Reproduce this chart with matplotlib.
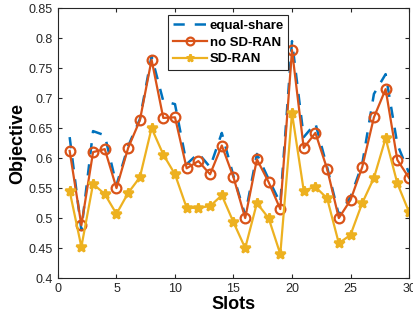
import matplotlib
matplotlib.use("Agg")
import matplotlib.pyplot as plt

plt.rcParams['font.family'] = ['Liberation Sans', 'DejaVu Sans']

slots = list(range(1, 31))
equal_share = [0.635, 0.48, 0.645, 0.638, 0.555, 0.62, 0.665, 0.77, 0.695, 0.69,
               0.59, 0.608, 0.585, 0.642, 0.57, 0.505, 0.607, 0.565, 0.525, 0.795,
               0.635, 0.658, 0.585, 0.505, 0.535, 0.59, 0.707, 0.74, 0.623, 0.575]
no_sdran = [0.612, 0.488, 0.61, 0.615, 0.55, 0.617, 0.663, 0.764, 0.667, 0.668,
            0.583, 0.595, 0.573, 0.621, 0.568, 0.5, 0.598, 0.56, 0.515, 0.78,
            0.617, 0.642, 0.582, 0.5, 0.53, 0.585, 0.668, 0.715, 0.597, 0.567]
sdran = [0.545, 0.452, 0.557, 0.54, 0.507, 0.542, 0.568, 0.65, 0.606, 0.573,
         0.517, 0.517, 0.52, 0.538, 0.493, 0.45, 0.525, 0.5, 0.44, 0.675,
         0.546, 0.552, 0.533, 0.458, 0.472, 0.525, 0.567, 0.633, 0.558, 0.51]

fig = plt.figure(figsize=(4.14, 3.26), dpi=100)
ax = fig.add_axes([0.140, 0.147, 0.848, 0.828])

ax.plot(slots, equal_share, '--', color='#0072BD', lw=1.8, dashes=(4.5, 4),
        label='equal-share')
ax.plot(slots, no_sdran, '-o', color='#D95319', lw=1.6, ms=7, mfc='none', mew=1.6,
        label='no SD-RAN')
ax.plot(slots, sdran, '-*', color='#EDB120', lw=1.6, ms=7, mew=1.8, label='SD-RAN')

ax.set_xlim(0, 30)
ax.set_ylim(0.4, 0.85)
ax.set_xticks(range(0, 31, 5))
ax.set_yticks([0.4, 0.45, 0.5, 0.55, 0.6, 0.65, 0.7, 0.75, 0.8, 0.85])
ax.set_yticklabels(['0.4', '0.45', '0.5', '0.55', '0.6', '0.65', '0.7', '0.75', '0.8', '0.85'])
ax.tick_params(direction='in', top=True, right=True, labelsize=9, colors='#262626',
               length=3)
for s in ax.spines.values():
    s.set_color('#262626')
    s.set_linewidth(0.8)

ax.set_xlabel('Slots', fontsize=13, fontweight='bold', labelpad=1)
ax.set_ylabel('Objective', fontsize=13, fontweight='bold', labelpad=2)

leg = ax.legend(loc='upper center', bbox_to_anchor=(0.485, 0.975),
                prop={'weight': 'bold', 'size': 9.5}, fancybox=False,
                edgecolor='#262626', framealpha=1, borderpad=0.35,
                labelspacing=0.35, handlelength=2.6, handletextpad=0.2,
                borderaxespad=0.0, markerscale=0.8)
leg.get_frame().set_linewidth(0.8)

fig.savefig('out.png', dpi=100)
